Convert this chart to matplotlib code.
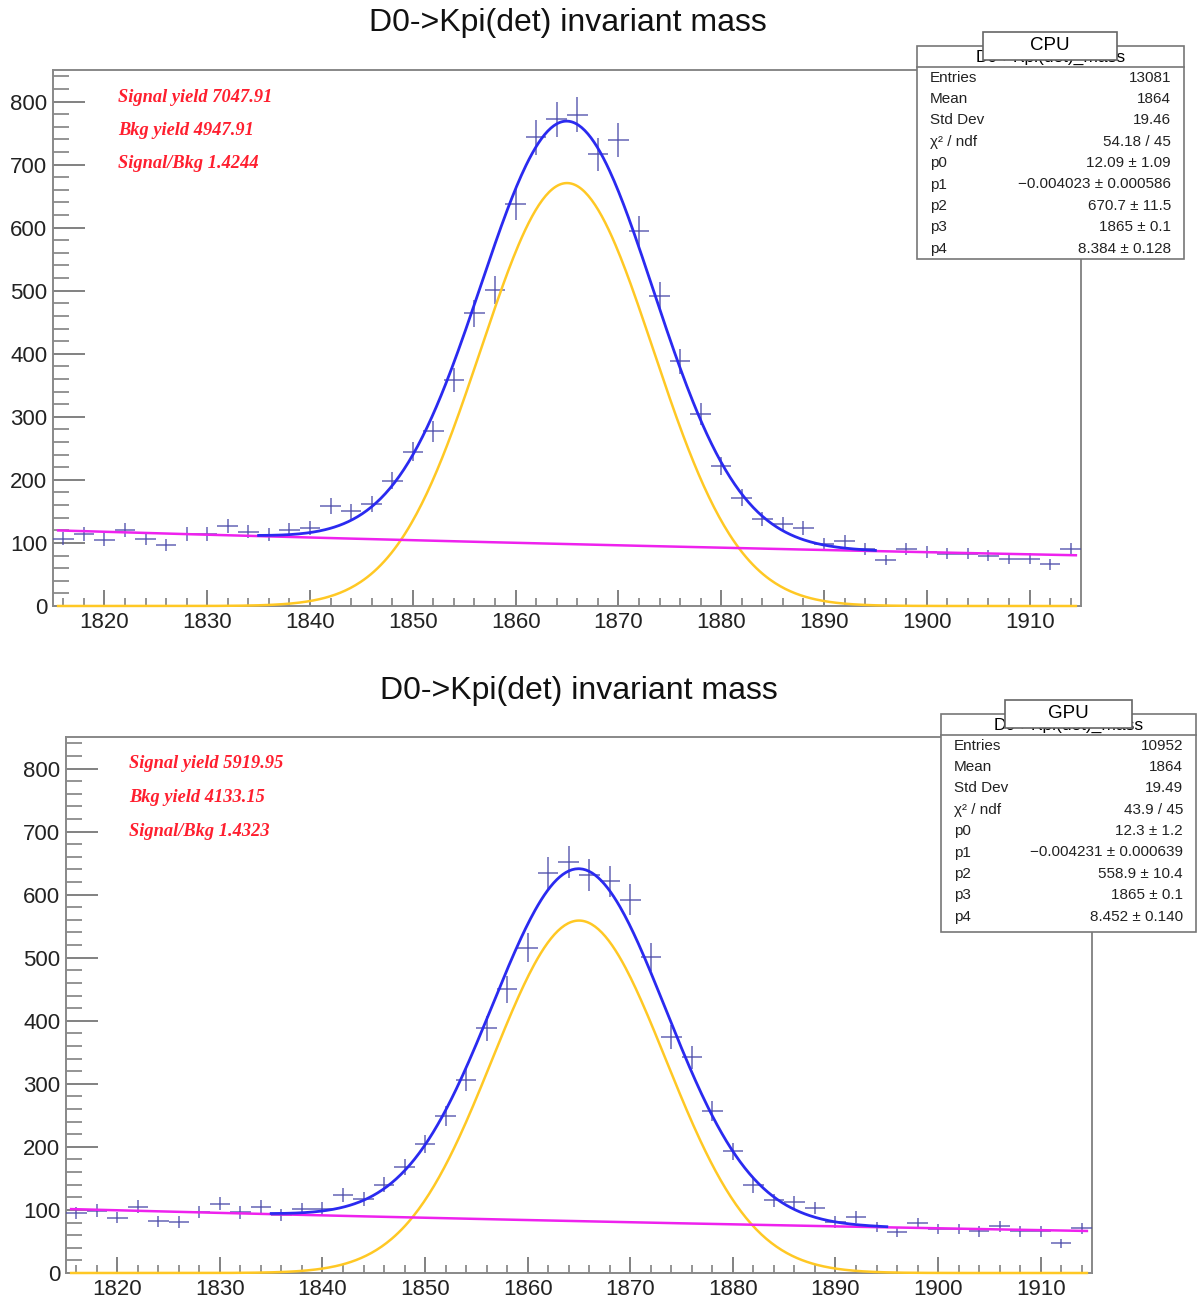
import numpy as np
import matplotlib
matplotlib.use("Agg")
import matplotlib.pyplot as plt
from matplotlib.patches import Rectangle
from matplotlib.lines import Line2D

plt.rcParams['font.family'] = ['Liberation Sans', 'DejaVu Sans']

# bin centres (2 MeV bins from 1815 to 1915)
bins = np.arange(1816, 1915, 2)

cpu_counts = [107, 114, 105, 120, 107, 97, 114, 114, 127, 118,
              113, 120, 124, 159, 150, 162, 199, 245, 277, 358,
              464, 501, 638, 743, 772, 779, 716, 739, 594, 491,
              388, 305, 222, 172, 138, 130, 123, 98, 103, 91,
              73, 90, 86, 83, 83, 80, 75, 75, 66, 90]

gpu_counts = [95, 99, 88, 105, 82, 81, 97, 110, 96, 105,
              92, 101, 102, 123, 117, 140, 168, 205, 249, 306,
              388, 450, 516, 634, 652, 631, 621, 592, 501, 374,
              342, 257, 193, 139, 115, 112, 103, 81, 89, 73,
              65, 79, 70, 70, 66, 74, 66, 66, 47, 71]

# fit parameters p0..p4 : exp(p0 + p1*x) + p2*gaus(p3, p4)
cpu_params = [12.09, -0.004023, 670.7, 1865, 8.384]
gpu_params = [12.3, -0.004231, 558.9, 1865, 8.452]

cpu_yields = ["Signal yield 7047.91", "Bkg yield 4947.91", "Signal/Bkg 1.4244"]
gpu_yields = ["Signal yield 5919.95", "Bkg yield 4133.15", "Signal/Bkg 1.4323"]

stat_labels = ["Entries", "Mean", "Std Dev", "\u03c7\u00b2 / ndf", "p0", "p1", "p2", "p3", "p4"]
cpu_stats = ["13081", "1864", "19.46", "54.18 / 45", "12.09 \u00b1 1.09",
             "\u22120.004023 \u00b1 0.000586", "670.7 \u00b1 11.5", "1865 \u00b1 0.1",
             "8.384 \u00b1 0.128"]
gpu_stats = ["10952", "1864", "19.49", "43.9 / 45", "12.3 \u00b1 1.2",
             "\u22120.004231 \u00b1 0.000639", "558.9 \u00b1 10.4", "1865 \u00b1 0.1",
             "8.452 \u00b1 0.140"]

W, H = 1203, 1300
fig = plt.figure(figsize=(W / 100, H / 100), dpi=100)


def fx(x):
    return x / W


def fy(y):
    return 1 - y / H


def panel(rect, counts, params, yields, stats, tag, title_xy, box, tagbox, textx):
    l, t, r, b = rect
    ax = fig.add_axes([fx(l), fy(b), fx(r - l), (b - t) / H])
    counts = np.array(counts, dtype=float)
    ax.errorbar(bins, counts, xerr=1, yerr=np.sqrt(counts), fmt='none',
                ecolor='#4a4aa8', elinewidth=1.1, alpha=0.85, zorder=3)

    p0, p1, p2, p3, p4 = params
    xs = np.linspace(1815.5, 1914.5, 600)
    xf = np.linspace(1835, 1895, 400)
    bkg = np.exp(p0 + p1 * xs)
    sig = p2 * np.exp(-0.5 * ((xs - p3) / p4) ** 2)
    tot = np.exp(p0 + p1 * xf) + p2 * np.exp(-0.5 * ((xf - p3) / p4) ** 2)
    ax.plot(xs, sig, color='#ffc824', lw=1.8, zorder=4, clip_on=False)
    ax.plot(xs, bkg, color='#ee22ee', lw=1.8, zorder=5)
    ax.plot(xf, tot, color='#2a2af0', lw=2.0, zorder=6)

    ax.set_xlim(1815, 1915)
    ax.set_ylim(0, 850)
    ax.set_xticks(np.arange(1820, 1911, 10))
    ax.set_xticks(np.arange(1816, 1915, 2), minor=True)
    ax.set_yticks(np.arange(0, 801, 100))
    ax.set_yticks(np.arange(0, 841, 20), minor=True)
    ax.tick_params(axis='y', which='major', direction='in', length=23, width=1.3,
                   color='#777777', labelsize=16, labelcolor='#222222', pad=4)
    ax.tick_params(axis='y', which='minor', direction='in', length=11.5, width=1.1,
                   color='#777777')
    ax.tick_params(axis='x', which='major', direction='in', length=11.5, width=1.3,
                   color='#777777', labelsize=16, labelcolor='#222222', pad=4)
    ax.tick_params(axis='x', which='minor', direction='in', length=6, width=1.1,
                   color='#777777')
    for s in ax.spines.values():
        s.set_color('#888888')
        s.set_linewidth(1.4)

    for i, txt in enumerate(yields):
        fig.text(fx(textx), fy(t + 27 + i * 33.5), txt, color='#ff1f2f',
                 family='Liberation Serif', style='italic', weight='bold',
                 fontsize=13.2, va='center', ha='left')

    fig.text(fx(title_xy[0]), fy(title_xy[1]), "D0->Kpi(det) invariant mass",
             fontsize=23, ha='center', va='center', color='#111111')

    # stat box
    bl, bt, br, bb = box
    fig.patches.append(Rectangle((fx(bl), fy(bb)), fx(br - bl), (bb - bt) / H,
                                 transform=fig.transFigure, facecolor='white',
                                 edgecolor='#777777', lw=1.2, zorder=10))
    fig.lines.append(Line2D([fx(bl), fx(br)], [fy(bt + 21), fy(bt + 21)],
                            transform=fig.transFigure, color='#777777', lw=1.2,
                            zorder=11))
    fig.text(fx((bl + br) / 2), fy(bt + 11), "D0->Kpi(det)_mass", fontsize=12.5,
             ha='center', va='center', zorder=11)
    for i, (lab, val) in enumerate(zip(stat_labels, stats)):
        yy = fy(bt + 31.5 + i * 21.4)
        fig.text(fx(bl + 13), yy, lab, fontsize=11, ha='left', va='center',
                 color='#222222', zorder=12)
        fig.text(fx(br - 13), yy, val, fontsize=11, ha='right', va='center',
                 color='#222222', zorder=12)

    tl, tt, tr, tb = tagbox
    fig.patches.append(Rectangle((fx(tl), fy(tb)), fx(tr - tl), (tb - tt) / H,
                                 transform=fig.transFigure, facecolor='white',
                                 edgecolor='#666666', lw=1.2, zorder=13))
    fig.text(fx((tl + tr) / 2), fy((tt + tb) / 2), tag, fontsize=13.5,
             ha='center', va='center', zorder=14)
    return ax


panel((53, 70, 1081, 606), cpu_counts, cpu_params, cpu_yields, cpu_stats, "CPU",
      (568, 23), (917, 46, 1184, 259), (983, 32, 1117, 60), 118)
panel((66, 737, 1092, 1273), gpu_counts, gpu_params, gpu_yields, gpu_stats, "GPU",
      (579, 691), (941, 714, 1196, 932), (1005, 700, 1132, 728), 129)

fig.savefig("out.png", dpi=100)
